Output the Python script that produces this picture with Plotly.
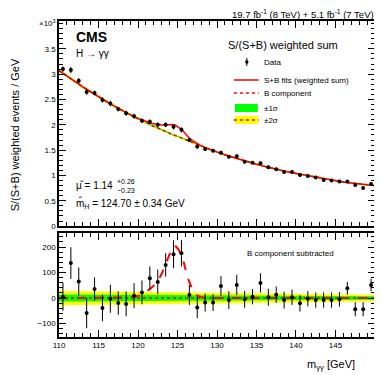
import plotly.graph_objects as go

# ---------------- data ----------------
mass = [110.5, 111.5, 112.5, 113.5, 114.5, 115.5, 116.5, 117.5, 118.5, 119.5,
        120.5, 121.5, 122.5, 123.5, 124.5, 125.5, 126.5, 127.5, 128.5, 129.5,
        130.5, 131.5, 132.5, 133.5, 134.5, 135.5, 136.5, 137.5, 138.5, 139.5,
        140.5, 141.5, 142.5, 143.5, 144.5, 145.5, 146.5, 147.5, 148.5, 149.5]
# weighted events / GeV (x10^3)
data_w = [3.10, 3.08, 2.87, 2.65, 2.63, 2.49, 2.42, 2.31, 2.23, 2.17,
          2.08, 2.06, 2.00, 2.00, 1.96, 1.90, 1.70, 1.57, 1.52, 1.49,
          1.45, 1.37, 1.38, 1.27, 1.25, 1.24, 1.16, 1.12, 1.07, 1.07,
          1.01, 0.99, 0.96, 0.91, 0.90, 0.88, 0.88, 0.81, 0.75, 0.83]
# B component subtracted (events)
resid = [5, 137, 65, -59, 35, -39, -3, -20, -23, 9,
         22, 78, 63, 130, 172, 176, 12, -37, -18, -18,
         47, -8, 51, -5, 5, 59, 3, 13, -8, 3,
         -21, -3, -8, -8, -8, -5, 38, -44, -44, 51]
resid_err = [55, 62, 55, 59, 46, 52, 55, 46, 49, 49,
             47, 46, 49, 46, 55, 52, 39, 42, 35, 33,
             39, 35, 40, 33, 30, 38, 33, 32, 33, 30,
             32, 30, 30, 30, 30, 29, 25, 28, 28, 25]

# fit curves
m_curve = [110, 111, 112, 113, 114, 115, 116, 117, 118, 119, 120,
           120.6, 121.2, 121.7, 122.2, 122.6, 123, 123.5, 124, 124.3, 124.7,
           125.1, 125.6, 126, 126.3, 126.9, 127.5, 128,
           129, 130, 131, 132, 133, 134, 135, 136, 137, 138, 139, 140,
           141, 142, 143, 144, 145, 146, 147, 148, 149, 150]
bkg_curve = [3.07, 2.97, 2.86, 2.75, 2.65, 2.55, 2.46, 2.37, 2.28, 2.20, 2.12,
             2.07, 2.03, 1.99, 1.96, 1.93, 1.90, 1.865, 1.83, 1.81, 1.79,
             1.765, 1.735, 1.71, 1.69, 1.655, 1.615, 1.58,
             1.52, 1.46, 1.41, 1.36, 1.31, 1.26, 1.22, 1.18, 1.14, 1.10, 1.07, 1.04,
             1.01, 0.98, 0.95, 0.92, 0.90, 0.87, 0.85, 0.83, 0.81, 0.80]
sig_curve = [0, 0, 0, 0, 0, 0, 0, 0, 0, 2, 8,
             18, 28, 40, 55, 72, 95, 133, 175, 195, 205,
             192, 163, 115, 78, 33, 10, 3,
             0, 0, 0, 0, 0, 0, 0, 0, 0, 0, 0, 0,
             0, 0, 0, 0, 0, 0, 0, 0, 0, 0]
band1 = [14, 13.8, 13.6, 13.4, 13.2, 13, 12.8, 12.6, 12.4, 12.2, 12,
         11.9, 11.8, 11.7, 11.6, 11.5, 11.4, 11.3, 11.2, 11.1, 11,
         10.9, 10.8, 10.8, 10.7, 10.6, 10.5, 10.4,
         10.2, 10, 9.8, 9.6, 9.4, 9.2, 9, 8.8, 8.6, 8.4, 8.2, 8,
         7.8, 7.6, 7.4, 7.2, 7.1, 7, 6.9, 6.8, 6.7, 6.6]

x_ticks = [110, 115, 120, 125, 130, 135, 140, 145, 150]
y_ticks_top = [0, 0.5, 1, 1.5, 2, 2.5, 3, 3.5]
y_ticks_bot = [-100, 0, 100, 200]

# ---------------- derived ----------------
K = 1000.0
band2 = [2 * b for b in band1]
sb_curve = [b + s / K for b, s in zip(bkg_curve, sig_curve)]
err_w = [e / K for e in resid_err]
zeros = [0 for _ in m_curve]

RED = "#ff0000"
GREEN = "#00ff00"
YELLOW = "#ffff00"
FONT = "Liberation Sans, Arial, sans-serif"

fig = go.Figure()

def band(xa, ya, center, half, scale, color):
    lo = [c - h / scale for c, h in zip(center, half)]
    hi = [c + h / scale for c, h in zip(center, half)]
    fig.add_trace(go.Scatter(x=m_curve, y=lo, mode="lines", line=dict(width=0, color=color),
                             xaxis=xa, yaxis=ya, showlegend=False, hoverinfo="skip"))
    fig.add_trace(go.Scatter(x=m_curve, y=hi, mode="lines", line=dict(width=0, color=color),
                             fill="tonexty", fillcolor=color,
                             xaxis=xa, yaxis=ya, showlegend=False, hoverinfo="skip"))

# upper panel
band("x", "y", bkg_curve, band2, K, YELLOW)
band("x", "y", bkg_curve, band1, K, GREEN)
fig.add_trace(go.Scatter(x=m_curve, y=bkg_curve, mode="lines",
                         line=dict(color=RED, width=1.5, dash="dot"),
                         xaxis="x", yaxis="y", showlegend=False))
fig.add_trace(go.Scatter(x=m_curve, y=sb_curve, mode="lines",
                         line=dict(color=RED, width=1.5),
                         xaxis="x", yaxis="y", showlegend=False))
fig.add_trace(go.Scatter(x=mass, y=data_w, mode="markers",
                         marker=dict(color="black", size=4),
                         error_y=dict(type="data", array=err_w, color="black", thickness=1, width=0),
                         xaxis="x", yaxis="y", showlegend=False))

# lower panel
band("x2", "y2", zeros, band2, 1, YELLOW)
band("x2", "y2", zeros, band1, 1, GREEN)
fig.add_trace(go.Scatter(x=m_curve, y=zeros, mode="lines",
                         line=dict(color=RED, width=1.5, dash="dot"),
                         xaxis="x2", yaxis="y2", showlegend=False))
fig.add_trace(go.Scatter(x=m_curve, y=sig_curve, mode="lines",
                         line=dict(color=RED, width=2, dash="dash"),
                         xaxis="x2", yaxis="y2", showlegend=False))
fig.add_trace(go.Scatter(x=mass, y=resid, mode="markers",
                         marker=dict(color="black", size=4),
                         error_y=dict(type="data", array=resid_err, color="black", thickness=1, width=0),
                         xaxis="x2", yaxis="y2", showlegend=False))

axis_common = dict(showline=True, linecolor="black", linewidth=1.5, mirror="allticks",
                   ticks="inside", ticklen=7, tickcolor="black", tickwidth=1,
                   showgrid=False, zeroline=False,
                   tickfont=dict(family=FONT, size=8, color="black"))

X_RANGE = [110, 150.001]

# the page body has an 8px margin: the figure is shrunk/shifted so the plot area
# lands at screen x 59..377, y 21..337
fig.update_layout(
    width=374, height=367,
    margin=dict(l=51, r=5, t=13, b=38),
    paper_bgcolor="white", plot_bgcolor="white",
    font=dict(family=FONT, color="black"),
    xaxis=dict(domain=[0, 1], anchor="y", range=X_RANGE, tickvals=x_ticks,
               showticklabels=False, matches="x2",
               minor=dict(ticks="inside", ticklen=4, dtick=1, tickcolor="black"),
               **axis_common),
    yaxis=dict(domain=[0.351, 1], anchor="x", range=[0, 4.05], tickvals=y_ticks_top,
               ticktext=[f"{v:g}" for v in y_ticks_top],
               minor=dict(ticks="inside", ticklen=4, dtick=0.1, tickcolor="black"),
               **axis_common),
    xaxis2=dict(domain=[0, 1], anchor="y2", range=X_RANGE, tickvals=x_ticks,
                minor=dict(ticks="inside", ticklen=4, dtick=1, tickcolor="black"),
                **axis_common),
    yaxis2=dict(domain=[0, 0.329], anchor="x2", range=[-153, 255], tickvals=y_ticks_bot,
                minor=dict(ticks="inside", ticklen=4, dtick=20, tickcolor="black"),
                **axis_common),
)

# screen pixel -> paper coords (plot area spans screen x 59..377, y 21..337)
def px(x):
    return (x - 59) / 318.0

def py(y):
    return (337 - y) / 316.0

ann = []
def text(x, y, s, size, xanchor="left", bold=False, angle=0):
    ann.append(dict(x=px(x), y=py(y), xref="paper", yref="paper", text=(f"<b>{s}</b>" if bold else s),
                    showarrow=False, xanchor=xanchor, yanchor="middle", textangle=angle,
                    font=dict(family=FONT, size=size, color="black")))

text(378, 14, "19.7 fb<sup>-1</sup> (8 TeV) + 5.1 fb<sup>-1</sup> (7 TeV)", 9.5, xanchor="right")
text(58, 23, "×10<sup>3</sup>", 8, xanchor="right")
text(74, 37, "CMS", 14, bold=True)
text(74, 53, "H → γγ", 10)
text(227, 45, "S/(S+B) weighted sum", 11)
text(263, 62, "Data", 8)
text(263, 80, "S+B fits (weighted sum)", 8)
text(263, 93, "B component", 8)
text(263, 108, "±1σ", 8)
text(263, 120, "±2σ", 8)
text(74, 185, "μ̂ = 1.14", 10)
text(115, 181, "+0.26", 7)
text(115, 190, "−0.23", 7)
text(74, 203, "m̂<sub>H</sub> = 124.70 ± 0.34 GeV", 10)
text(246, 253, "B component subtracted", 8)
text(333, 365, "m<sub>γγ</sub> [GeV]", 11, xanchor="center")
ann.append(dict(x=px(15), y=py(135), xref="paper", yref="paper",
                text="S/(S+B) weighted events / GeV", showarrow=False, textangle=-90,
                xanchor="center", yanchor="middle",
                font=dict(family=FONT, size=11, color="black")))
fig.update_layout(annotations=ann)

# legend symbols
shapes = []
def pshape(**kw):
    kw.update(xref="paper", yref="paper")
    shapes.append(kw)

pshape(type="line", x0=px(248), x1=px(248), y0=py(58), y1=py(66), line=dict(color="black", width=1))
pshape(type="circle", x0=px(246.3), x1=px(249.7), y0=py(63.7), y1=py(60.3),
       fillcolor="black", line=dict(color="black", width=0))
pshape(type="line", x0=px(235), x1=px(260), y0=py(80), y1=py(80), line=dict(color=RED, width=1.5))
pshape(type="line", x0=px(235), x1=px(260), y0=py(93), y1=py(93), line=dict(color=RED, width=1.5, dash="dot"))
pshape(type="rect", x0=px(236), x1=px(259), y0=py(104), y1=py(112), fillcolor=GREEN, line=dict(width=0))
pshape(type="rect", x0=px(236), x1=px(259), y0=py(116), y1=py(124), fillcolor=YELLOW, line=dict(width=0))
pshape(type="line", x0=px(235), x1=px(260), y0=py(120), y1=py(120), line=dict(color=RED, width=1.5, dash="dot"))
fig.update_layout(shapes=shapes)

fig.write_html("out.html")
